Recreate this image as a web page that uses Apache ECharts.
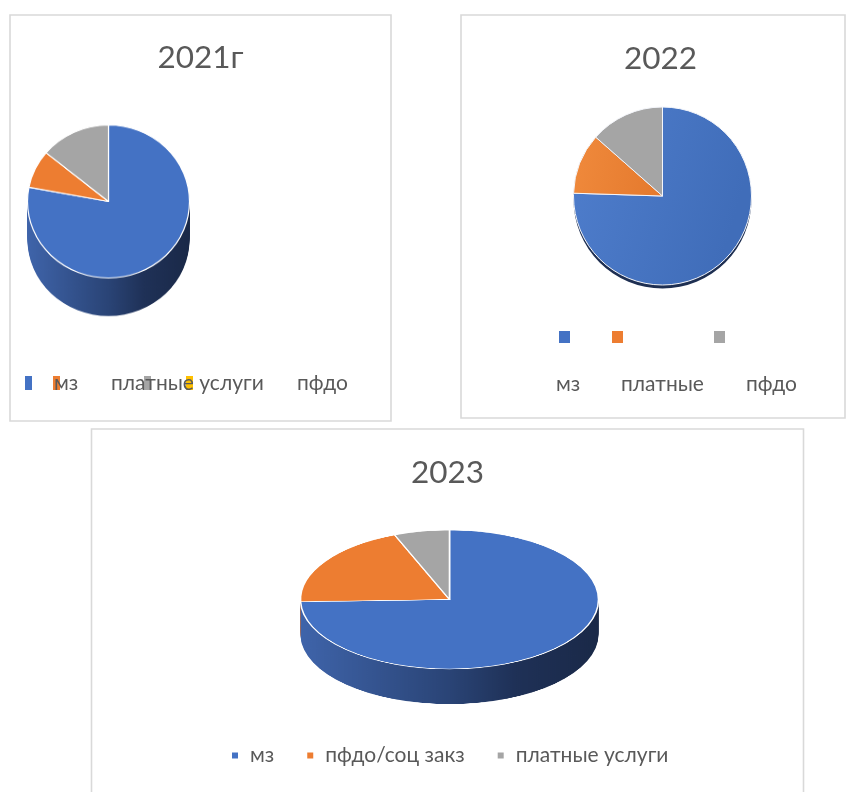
<!DOCTYPE html>
<html><head><meta charset="utf-8">
<script src="https://cdn.jsdelivr.net/npm/echarts@6/dist/echarts.min.js"></script>
<style>
html,body{margin:0;padding:0;background:#fff;}
#main{position:absolute;left:0;top:0;width:847px;height:792px;}
.pie3d{position:absolute;left:0;width:847px;pointer-events:none;}
</style></head><body>
<div id="main"></div>
<div id="p2021" class="pie3d"></div>
<div id="p2023" class="pie3d"></div>
<script>
const FONT = "Lato, Carlito, 'Open Sans', 'Liberation Sans', sans-serif";
const TEXT = '#595959';
const TITLE_SIZE = 31.5;
const LEGEND_SIZE = 21;

// ---- data ----
const titles = ['2021г', '2022', '2023'];
const cat2021 = ['мз', 'платные услуги', 'пфдо'];
const val2021 = [78, 8, 14];
const colors2021 = ['#4472C4', '#ED7D31', '#A5A5A5'];
const extraMarker2021 = '#FFC000';
const cat2022 = ['мз', 'платные', 'пфдо'];
const val2022 = [75.5, 11, 13.5];
const colors2022 = ['#4472C4', '#ED7D31', '#A5A5A5'];
const cat2023 = ['мз', 'пфдо/соц закз', 'платные услуги'];
const val2023 = [74.5, 19.5, 6];
const colors2023 = ['#4472C4', '#ED7D31', '#A5A5A5'];

const sideStops = {
  '#4472C4': ['#3f64aa', '#2a4476', '#1f3157', '#1a2948'],
  '#ED7D31': ['#c8642a', '#8f4519', '#733714', '#632f10'],
  '#A5A5A5': ['#8e8e8e', '#666666', '#525252', '#474747']
};

function pieData(cats, vals, cols) {
  return cats.map((c, i) => ({ name: c, value: vals[i], itemStyle: { color: cols[i] } }));
}

// ---- 3D pies (vertically scaled instances) ----
function make3D(domId, cats, vals, cols, g) {
  const s = g.ry / g.rx;
  const localDepth = g.depth / s;
  const H = Math.ceil(2 * (g.rx + localDepth + 10));
  const el = document.getElementById(domId);
  el.style.height = H + 'px';
  el.style.top = (g.cy - H / 2) + 'px';
  el.style.transformOrigin = '50% 50%';
  el.style.transform = 'scaleY(' + s + ')';
  const chart = echarts.init(el, null, { renderer: 'canvas' });
  const cy = H / 2;
  const series = [];
  const n = Math.ceil(g.depth / 1.2);
  for (let k = n; k >= 1; k--) {
    const off = localDepth * k / n;
    series.push({
      type: 'pie', center: [g.cx, cy + off], radius: g.rx, silent: true,
      label: { show: false }, labelLine: { show: false }, z: 1,
      data: cats.map((c, i) => ({
        name: c, value: vals[i],
        itemStyle: {
          color: {
            type: 'linear', global: true, x: g.cx - g.rx, y: 0, x2: g.cx + g.rx, y2: 0,
            colorStops: sideStops[cols[i]].map((col, j) => ({ offset: [0, 0.5, 0.72, 1][j], color: col }))
          },
          borderWidth: 0
        }
      }))
    });
  }
  series.push({
    type: 'pie', center: [g.cx, cy], radius: g.rx, silent: true, z: 3,
    label: { show: false }, labelLine: { show: false },
    itemStyle: { borderColor: '#ffffff', borderWidth: g.border },
    data: pieData(cats, vals, cols)
  });
  chart.setOption({ animation: false, series: series });
}

make3D('p2021', cat2021, val2021, colors2021, { cx: 108.5, cy: 201.5, rx: 81, ry: 76.5, depth: 38, border: 1.2 });
make3D('p2023', cat2023, val2023, colors2023, { cx: 449.5, cy: 599.5, rx: 149, ry: 69.5, depth: 35, border: 1.6 });

// ---- main instance ----
const main = echarts.init(document.getElementById('main'), null, { renderer: 'canvas' });

const g2021Markers = [
  { x: 25, c: colors2021[0] }, { x: 53, c: colors2021[1] }, { x: 144, c: colors2021[2] }, { x: 186, c: extraMarker2021 }
];
const g2021Labels = [{ x: 54, t: cat2021[0] }, { x: 111, t: cat2021[1] }, { x: 297, t: cat2021[2] }];
const g2022Markers = [{ x: 559, c: colors2022[0] }, { x: 612, c: colors2022[1] }, { x: 714, c: colors2022[2] }];
const g2022Labels = [{ x: 556, t: cat2022[0] }, { x: 621, t: cat2022[1] }, { x: 746, t: cat2022[2] }];

const graphics = [
  { type: 'rect', z: -10, shape: { x: 10, y: 15, width: 381, height: 406 }, style: { fill: '#fff', stroke: '#d9d9d9', lineWidth: 1.6 } },
  { type: 'rect', z: -10, shape: { x: 461, y: 15, width: 384, height: 403 }, style: { fill: '#fff', stroke: '#d9d9d9', lineWidth: 1.6 } },
  { type: 'rect', z: -10, shape: { x: 91.5, y: 429, width: 712, height: 400 }, style: { fill: '#fff', stroke: '#d9d9d9', lineWidth: 1.6 } }
];
g2021Markers.forEach(m => graphics.push({ type: 'rect', z: 5, shape: { x: m.x, y: 376, width: 7, height: 14 }, style: { fill: m.c } }));
g2021Labels.forEach(l => graphics.push({ type: 'text', z: 6, x: l.x, y: 383, style: { text: l.t, font: LEGEND_SIZE + 'px ' + FONT, fill: TEXT, verticalAlign: 'middle' } }));
g2022Markers.forEach(m => graphics.push({ type: 'rect', z: 5, shape: { x: m.x, y: 331, width: 11, height: 12 }, style: { fill: m.c } }));
g2022Labels.forEach(l => graphics.push({ type: 'text', z: 6, x: l.x, y: 384, style: { text: l.t, font: LEGEND_SIZE + 'px ' + FONT, fill: TEXT, verticalAlign: 'middle' } }));

const titleX = [200.5, 660.5, 447.5];
const titleY = [42, 43, 457];

main.setOption({
  animation: false,
  title: titles.map((t, i) => ({
    text: t, left: titleX[i], top: titleY[i], textAlign: 'center', padding: 0,
    textStyle: { fontFamily: FONT, fontSize: TITLE_SIZE, fontWeight: 'normal', color: TEXT }
  })),
  legend: {
    data: cat2023, left: 232, top: 745, padding: 0, icon: 'rect', itemWidth: 6, itemHeight: 6, itemGap: 33,
    selectedMode: false,
    textStyle: { fontFamily: FONT, fontSize: LEGEND_SIZE, color: TEXT, padding: [10, 0, 0, 7] }
  },
  graphic: graphics,
  series: [
    { // legend source for 2023 (the pie itself is drawn in the scaled layer)
      type: 'pie', radius: [0, 0], center: [449.5, 599.5], silent: true,
      label: { show: false }, labelLine: { show: false }, itemStyle: { borderWidth: 0 },
      data: pieData(cat2023, val2023, colors2023)
    },
    { // 2022 thin rim
      type: 'pie', radius: 89, center: [662.5, 199.5], silent: true, z: 1,
      label: { show: false }, labelLine: { show: false }, itemStyle: { borderWidth: 0 },
      data: cat2022.map((c, i) => ({ name: '', value: val2022[i], itemStyle: { color: '#1e2f52' } }))
    },
    { // 2022 pie
      type: 'pie', radius: 89, center: [662.5, 196], silent: true, z: 3,
      label: { show: false }, labelLine: { show: false },
      itemStyle: { borderColor: '#f4f6fb', borderWidth: 1 },
      data: cat2022.map((c, i) => ({
        name: c, value: val2022[i],
        itemStyle: {
          color: i === 0 ? { type: 'linear', x: 0, y: 0, x2: 1, y2: 0.3, colorStops: [{ offset: 0, color: '#4f7ecd' }, { offset: 1, color: '#406db9' }] }
            : i === 1 ? { type: 'linear', x: 0, y: 0, x2: 1, y2: 0.3, colorStops: [{ offset: 0, color: '#f08a3c' }, { offset: 1, color: '#e57a2e' }] }
            : colors2022[i]
        }
      }))
    }
  ]
});
</script>
</body></html>
